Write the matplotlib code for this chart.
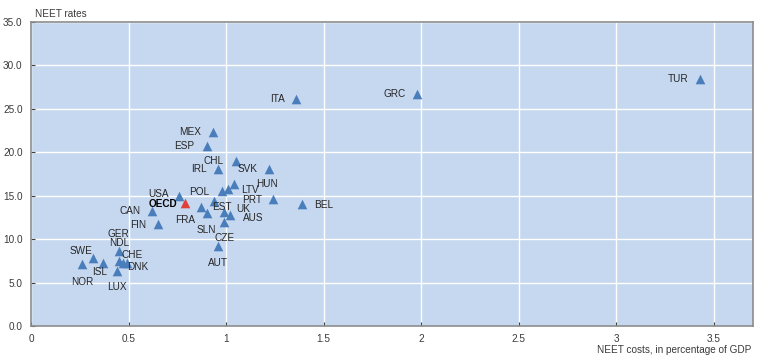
import numpy as np
import matplotlib.pyplot as plt

plt.rcParams['font.family'] = ['Liberation Sans', 'DejaVu Sans']

# data
countries = ['TUR', 'GRC', 'ITA', 'MEX', 'ESP', 'CHL', 'IRL', 'SVK', 'HUN', 'LTV',
             'PRT', 'BEL', 'POL', 'USA', 'CAN', 'FIN', 'FRA', 'EST', 'UK', 'AUS',
             'SLN', 'CZE', 'AUT', 'GER', 'NDL', 'SWE', 'CHE', 'DNK', 'ISL', 'NOR', 'LUX']
costs = [3.43, 1.98, 1.36, 0.93, 0.90, 1.05, 0.96, 1.22, 1.04, 1.01,
         1.24, 1.39, 0.98, 0.76, 0.62, 0.65, 0.87, 0.94, 0.99, 1.02,
         0.90, 0.99, 0.96, 0.45, 0.45, 0.32, 0.49, 0.47, 0.37, 0.26, 0.44]
rates = [28.4, 26.7, 26.1, 22.3, 20.7, 19.0, 18.1, 18.1, 16.3, 15.8,
         14.6, 14.0, 15.5, 15.0, 13.2, 11.7, 13.7, 14.4, 13.1, 12.8,
         13.0, 12.0, 9.2, 8.6, 7.5, 7.8, 7.2, 7.2, 7.2, 7.1, 6.3]
oecd_cost = 0.79
oecd_rate = 14.2

# label offsets in pixels (dx, dy), dy positive = down
offsets = {
    'TUR': (-22, 0), 'GRC': (-23, 0), 'ITA': (-19, 0), 'MEX': (-22, 0), 'ESP': (-22, 0),
    'CHL': (-22, 0), 'IRL': (-19, 0), 'SVK': (-22, 0), 'HUN': (33, 0), 'LTV': (22, 1),
    'PRT': (-21, 1), 'BEL': (21, 1), 'POL': (-23, 1), 'USA': (-21, -2), 'CAN': (-22, 0),
    'FIN': (-20, 1), 'FRA': (-16, 13), 'EST': (7, 6), 'UK': (19, -3), 'AUS': (23, 3),
    'SLN': (0, 17), 'CZE': (0, 16), 'AUT': (0, 17), 'GER': (0, -17), 'NDL': (0, -18),
    'SWE': (-12, -7), 'CHE': (5, -8), 'DNK': (15, 4), 'ISL': (-4, 9), 'NOR': (0, 18),
    'LUX': (0, 16),
}

fig = plt.figure(figsize=(7.7, 3.62), dpi=100)
ax = fig.add_axes([0.0403, 0.0994, 0.9377, 0.8398])
ax.set_facecolor('#c6d8f0')

ax.set_xlim(0, 3.7)
ax.set_ylim(0, 35)
ax.set_xticks(np.arange(0, 3.6, 0.5))
ax.set_xticklabels(['0', '0.5', '1', '1.5', '2', '2.5', '3', '3.5'])
ax.set_yticks(np.arange(0, 36, 5))
ax.set_yticklabels(['%.1f' % v for v in np.arange(0, 36, 5)])
ax.grid(True, color='white', linewidth=1.0)
ax.set_axisbelow(True)
ax.tick_params(direction='in', length=3, width=0.8, color='#404040',
               labelsize=7.2, labelcolor='#3a3a3a', pad=6)
for s in ax.spines.values():
    s.set_color('#8c8c8c')
    s.set_linewidth(1.2)

ax.scatter(costs, rates, marker='^', s=48, color='#4a7ebb', zorder=3, linewidths=0)
ax.scatter([oecd_cost], [oecd_rate], marker='^', s=48, color='#e0403a', zorder=3, linewidths=0)

for c, x, y in zip(countries, costs, rates):
    dx, dy = offsets[c]
    ax.annotate(c, (x, y), xytext=(dx * 0.72, -dy * 0.72), textcoords='offset points',
                ha='center', va='center', fontsize=7.2, color='#262626', zorder=4)
ax.annotate('OECD', (oecd_cost, oecd_rate), xytext=(-22 * 0.72, -1 * 0.72),
            textcoords='offset points', ha='center', va='center', fontsize=7.2,
            fontweight='bold', color='#000000', zorder=4)

fig.text(0.0455, 0.962, 'NEET rates', fontsize=7.2, color='#3a3a3a', ha='left', va='center')
fig.text(0.976, 0.033, 'NEET costs, in percentage of GDP', fontsize=7.2, color='#3a3a3a',
         ha='right', va='center')

fig.savefig('out.png', dpi=100)
